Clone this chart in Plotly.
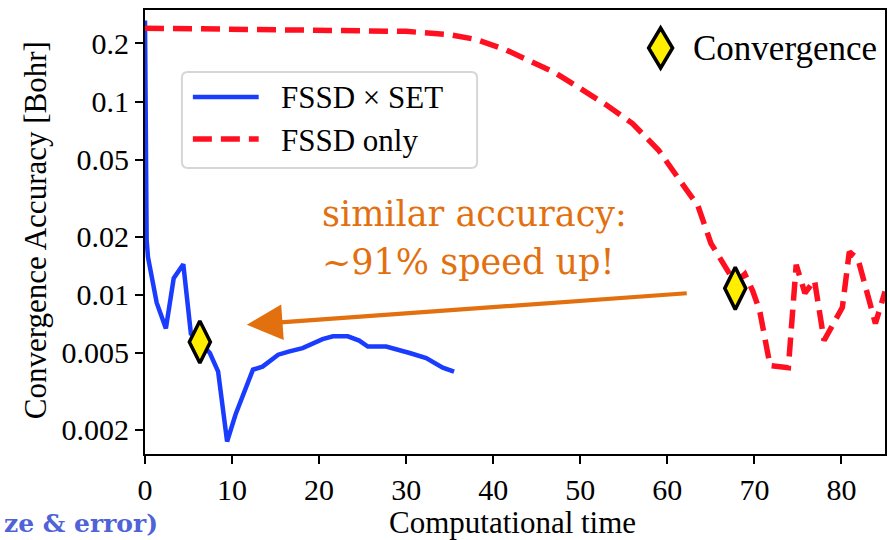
import numpy as np
import plotly.graph_objects as go

# FSSD x SET run: convergence accuracy vs computational time
blue_t = [0, 0.19, 0.34, 1.34, 2.4, 3.3, 4.4, 5.27, 6.3, 7.45, 8.4, 9.43, 10.4, 12.4,
          13.5, 15.3, 16.6, 18.1, 20.4, 21.6, 23.3, 24.6, 25.6, 27.7, 30.4, 32.3, 34.2, 35.5]
blue_v = [0.263, 0.0192, 0.0157, 0.0091, 0.0067, 0.0122, 0.0144, 0.0063, 0.0057, 0.0050,
          0.0040, 0.00174, 0.0024, 0.0041, 0.00425, 0.0049, 0.0051, 0.0053, 0.0059, 0.0061,
          0.0061, 0.0058, 0.0054, 0.0054, 0.0050, 0.0047, 0.0042, 0.0040]

# FSSD only run
red_t = [0, 10, 20, 30, 35, 38, 41.5, 44, 47, 50, 53, 56, 59, 62, 63.5, 65, 66.5, 67.8,
         68.9, 69.8, 70.6, 71.8, 73.9, 74.8, 75.8, 76.9, 78.0, 80.1, 80.9, 81.9, 83.9, 85]
red_v = [0.240, 0.236, 0.235, 0.231, 0.222, 0.210, 0.185, 0.165, 0.142, 0.117, 0.096,
         0.077, 0.056, 0.036, 0.029, 0.0185, 0.0142, 0.0115, 0.0128, 0.0105, 0.0083,
         0.0043, 0.0042, 0.0143, 0.0102, 0.0119, 0.0058, 0.0086, 0.0167, 0.0153, 0.0071, 0.0104]

# convergence points of both runs
conv_t = [6.3, 67.8]
conv_v = [0.0057, 0.0108]

y_ticks = [0.002, 0.005, 0.01, 0.02, 0.05, 0.1, 0.2]
y_tick_text = ["0.002", "0.005", "0.01", "0.02", "0.05", "0.1", "0.2"]
x_ticks = [0, 10, 20, 30, 40, 50, 60, 70, 80]

# speed-up arrow: tail at the FSSD-only convergence, head near the FSSD x SET level
arrow_tail = (62.4, 0.0102)
arrow_head = (11.7, 0.0070)

W, H = 890, 540
L, R, T, B = 145, 3, 10, 86
SERIF = "Liberation Serif, Times New Roman, serif"
ORANGE = "#e2700f"
YELLOW = "#ffee00"
BLUE = "#1a3cff"
RED = "#ff1020"
RED_DASH = "19px,9px"


def px_x(p):
    return (p - L) / (W - L - R)


def px_y(p):
    return 1 - (p - T) / (H - T - B)


fig = go.Figure()
fig.add_trace(go.Scatter(x=blue_t, y=blue_v, mode="lines", name="FSSD × SET",
                         showlegend=False, line=dict(color=BLUE, width=4.5)))
fig.add_trace(go.Scatter(x=red_t, y=red_v, mode="lines", name="FSSD only",
                         showlegend=False, line=dict(color=RED, width=5.5, dash=RED_DASH)))
fig.add_trace(go.Scatter(x=conv_t, y=conv_v, mode="markers", name="Convergence",
                         showlegend=False,
                         marker=dict(symbol="diamond-tall", size=30, color=YELLOW,
                                     line=dict(color="black", width=3.5))))

axis_common = dict(showline=True, linecolor="black", linewidth=2, mirror=True,
                   ticks="outside", ticklen=8, tickwidth=2, tickcolor="black",
                   showgrid=False, zeroline=False,
                   tickfont=dict(family=SERIF, size=30, color="black"))

fig.update_xaxes(range=[0, 85], tickvals=x_ticks, **axis_common)
fig.update_yaxes(type="log", range=[np.log10(0.0015), np.log10(0.298)],
                 tickvals=y_ticks, ticktext=y_tick_text, **axis_common)


def rounded_box(x0, y0, x1, y1, r):
    """SVG path (paper coords) of a rounded rectangle given in pixels."""
    pts = [("M", x0 + r, y0), ("L", x1 - r, y0), ("Q", x1, y0, x1, y0 + r),
           ("L", x1, y1 - r), ("Q", x1, y1, x1 - r, y1), ("L", x0 + r, y1),
           ("Q", x0, y1, x0, y1 - r), ("L", x0, y0 + r), ("Q", x0, y0, x0 + r, y0)]
    out = []
    for p in pts:
        cmd, coords = p[0], p[1:]
        xy = []
        for i in range(0, len(coords), 2):
            xy.append("{:.5f},{:.5f}".format(px_x(coords[i]), px_y(coords[i + 1])))
        out.append(cmd + " " + " ".join(xy))
    return " ".join(out) + " Z"


# legend for the two runs
legend_entries = [("FSSD × SET", BLUE, 4.5, "solid", 97),
                  ("FSSD only", RED, 5.5, RED_DASH, 139)]

shapes = [dict(type="path", xref="paper", yref="paper", layer="above",
               path=rounded_box(182, 72, 478, 168, 6),
               fillcolor="rgba(255,255,255,0.9)", line=dict(color="#d6d6d6", width=2))]
annotations = []
for label, color, width, dash, yc in legend_entries:
    shapes.append(dict(type="line", xref="paper", yref="paper", layer="above",
                       x0=px_x(193), x1=px_x(259), y0=px_y(yc), y1=px_y(yc),
                       line=dict(color=color, width=width, dash=dash)))
    annotations.append(dict(xref="paper", yref="paper", x=px_x(279), y=px_y(yc + 1),
                            text=label, showarrow=False, xanchor="left", yanchor="middle",
                            font=dict(family=SERIF, size=31, color="black")))

# key for the convergence markers (large diamond + label, top right)
key_cx, key_cy, key_hw, key_hh = 662, 48, 12, 20
key_path = "M {x0} {yc} L {xc} {y0} L {x1} {yc} L {xc} {y1} Z".format(
    x0=px_x(key_cx - key_hw), x1=px_x(key_cx + key_hw), xc=px_x(key_cx),
    yc=px_y(key_cy), y0=px_y(key_cy - key_hh), y1=px_y(key_cy + key_hh))
shapes.append(dict(type="path", xref="paper", yref="paper", path=key_path,
                   fillcolor=YELLOW, line=dict(color="black", width=3.5)))

annotations += [
    dict(xref="paper", yref="paper", x=px_x(692), y=px_y(48), text="Convergence",
         showarrow=False, xanchor="left", yanchor="middle",
         font=dict(family=SERIF, size=35, color="black")),
    dict(xref="paper", yref="paper", x=px_x(35), y=px_y(230), text="Convergence Accuracy [Bohr]",
         textangle=-90, showarrow=False, xanchor="center", yanchor="middle",
         font=dict(family=SERIF, size=31, color="black")),
    dict(xref="paper", yref="paper", x=px_x(513), y=px_y(522), text="Computational time",
         showarrow=False, xanchor="center", yanchor="middle",
         font=dict(family=SERIF, size=31, color="black")),
    dict(xref="paper", yref="paper", x=px_x(320), y=px_y(214), text="similar accuracy:",
         showarrow=False, xanchor="left", yanchor="middle",
         font=dict(family="DejaVu Serif, serif", size=35, color=ORANGE)),
    dict(xref="paper", yref="paper", x=px_x(320), y=px_y(262), text="~91% speed up!",
         showarrow=False, xanchor="left", yanchor="middle",
         font=dict(family="DejaVu Serif, serif", size=35, color=ORANGE)),
    dict(xref="x", yref="y", x=arrow_head[0], y=np.log10(arrow_head[1]),
         axref="x", ayref="y", ax=arrow_tail[0], ay=np.log10(arrow_tail[1]),
         text="", showarrow=True, arrowhead=2, arrowsize=1.7, arrowwidth=4.2,
         arrowcolor=ORANGE, standoff=0),
    dict(xref="paper", yref="paper", x=px_x(2), y=px_y(523), text="<b>ze &amp; error)</b>",
         showarrow=False, xanchor="left", yanchor="middle",
         font=dict(family="DejaVu Serif, serif", size=25, color="#4f63d8")),
]

fig.update_layout(
    width=W, height=H,
    margin=dict(l=L, r=R, t=T, b=B),
    paper_bgcolor="white", plot_bgcolor="white",
    font=dict(family=SERIF, color="black"),
    showlegend=False,
    shapes=shapes,
    annotations=annotations,
)

fig.write_html("out.html")
